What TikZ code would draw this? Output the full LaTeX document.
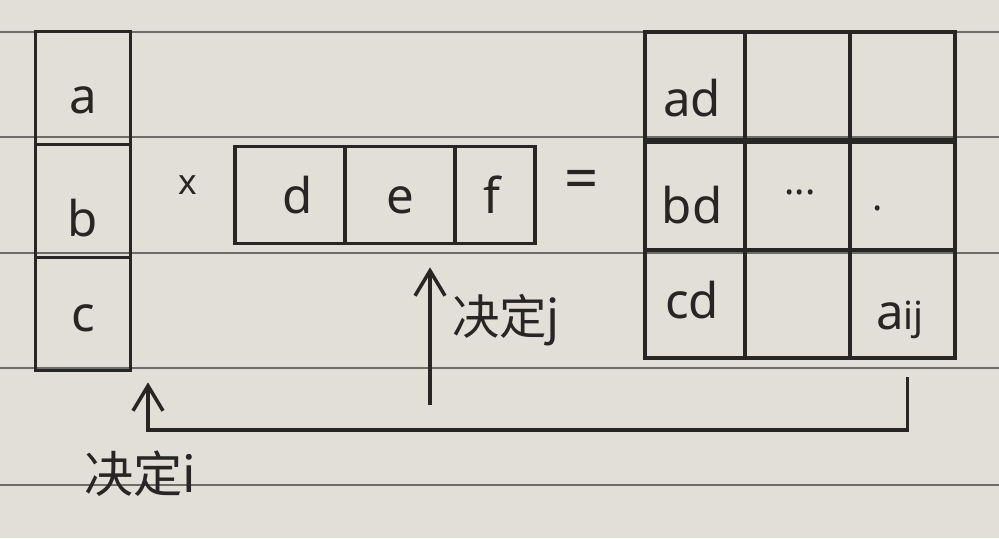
\documentclass[tikz,border=0pt]{standalone}
\usepackage{fontspec}
\setmainfont{Noto Sans}
\newfontfamily\cjk{Noto Sans CJK SC}
\usetikzlibrary{arrows.meta}
\definecolor{paper}{RGB}{226,223,217}
\definecolor{ink}{RGB}{40,38,36}
\definecolor{rule}{RGB}{110,108,105}
\tikzset{
  cell/.style={draw=ink, line width=2.1pt, inner sep=0pt},
  lbl/.style={inner sep=0pt, text=ink, font=\fontsize{28}{28}\selectfont},
  barb/.style={draw=ink, line width=2pt, -{Straight Barb[length=5mm,width=6mm]}},
}
\begin{document}
\begin{tikzpicture}[x=0.02cm,y=-0.02cm]
   \fill[paper] (0,0) rectangle (999,538);
   \useasboundingbox (0,0) rectangle (999,538);
   % ruled paper
   \foreach \y in {32,137,253,368,485}
      \draw[rule, line width=0.6pt] (0,\y) -- (999,\y);
   % column vector
   \node[cell, minimum width=1.9cm, minimum height=2.26cm] (ca) at (83,88) {};
   \node[cell, minimum width=1.9cm, minimum height=2.26cm] (cb) at (83,201) {};
   \node[cell, minimum width=1.9cm, minimum height=2.26cm] (cc) at (83,314) {};
   \node[lbl] (a) at (83,100) {a};
   \node[lbl] (b) at (83,218) {b};
   \node[lbl] (c) at (83,318) {c};
   \node[lbl, font=\fontsize{20}{20}\selectfont] (times) at (188,185) {x};
   % row vector
   \node[cell, minimum width=2.2cm, minimum height=1.94cm] (cd) at (290,195) {};
   \node[cell, minimum width=2.2cm, minimum height=1.94cm] (ce) at (400,195) {};
   \node[cell, minimum width=1.6cm, minimum height=1.94cm] (cf) at (495,195) {};
   \node[lbl] (d) at (298,195) {d};
   \node[lbl] (e) at (400,200) {e};
   \node[lbl] (f) at (492,195) {f};
   \node[lbl, font=\fontsize{34}{34}\selectfont] (equals) at (582,185) {=};
   % result matrix
   \foreach \row/\y in {1/86,2/196,3/304}
      \foreach \col/\x/\w in {1/695/2.0,2/797.5/2.1,3/902.5/2.1}
         \node[cell, minimum width=\w cm, minimum height=2.16cm] (r\row\col) at (\x,\y) {};
   \node[lbl] (ad) at (692,98) {ad};
   \node[lbl] (bd) at (692,205) {bd};
   \node[lbl] (cd) at (692,300) {cd};
   \node[lbl, font=\fontsize{22}{22}\selectfont] (dots) at (800,192) {...};
   \node[lbl, font=\fontsize{22}{22}\selectfont] (dot) at (878,208) {.};
   \node[lbl] (aij) at (900,320) {a{\fontsize{22}{22}\selectfont ij}};
   % index arrows
   \coordinate (jfoot) at (430,405);
   \draw[barb, shorten >=0.44cm] (jfoot) -- (jfoot |- ce.south);
   \node[lbl, font=\cjk\fontsize{27}{27}\selectfont] (jlabel) at (506,320) {决定j};
   \coordinate (ibend) at (148,430);
   \draw[barb, shorten <=0.34cm, shorten >=0.2cm] ([xshift=0.1cm]r33.south) |- (ibend) -- (ibend |- cc.south);
   \node[lbl, font=\cjk\fontsize{28}{28}\selectfont] (ilabel) at (140,474) {决定i};
\end{tikzpicture}
\end{document}
